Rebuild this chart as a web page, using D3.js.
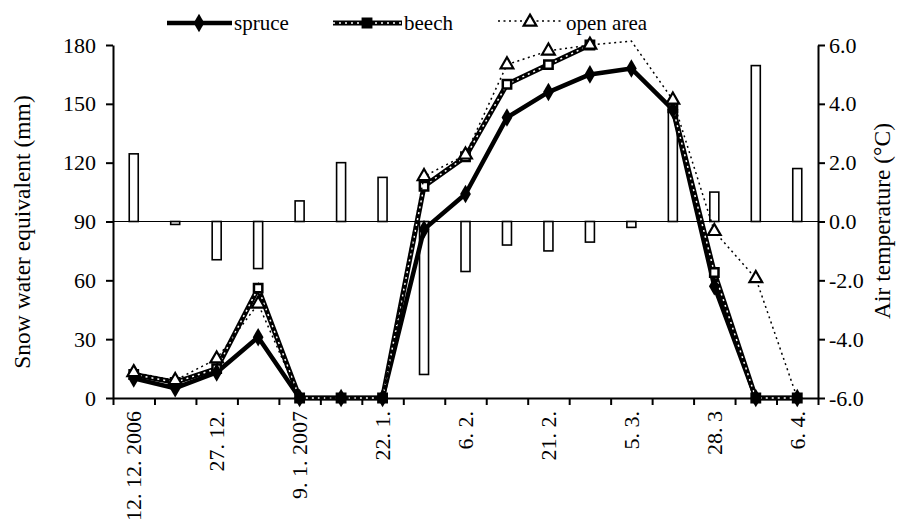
<!DOCTYPE html>
<html>
<head>
<meta charset="utf-8">
<script src="https://cdn.jsdelivr.net/npm/d3@7"></script>
<style>
  body { margin: 0; background: #fff; }
  svg text { font-family: "Liberation Serif", "DejaVu Serif", serif; fill: #000; }
</style>
</head>
<body>
<div id="chart"></div>
<script>
(function() {
    // data
    var dates = ["12. 12. 2006", "", "27. 12.", "", "9. 1. 2007", "", "22. 1.", "", "6. 2.", "",
                 "21. 2.", "", "5. 3.", "", "28. 3", "", "6. 4."];
    var spruce = [10, 5, 13, 31, 0, 0, 0, 86, 104, 143, 156, 165, 168, 147, 57, 0, 0];
    var beech = [12, 8, 15, 56, 0, 0, 0, 108, 123, 160, 170, 180, null, 148, 64, 0, 0];
    var openArea = [13, 9, 20, 48, 0, 0, 0, 113, 124, 170, 177, 180, 182, 152, 85, 61, 0];
    var openMarker = [1, 1, 1, 1, 1, 1, 1, 1, 1, 1, 1, 1, 0, 1, 1, 1, 1];
    var airTemp = [2.3, -0.1, -1.3, -1.6, 0.7, 2.0, 1.5, -5.2, -1.7, -0.8, -1.0, -0.7, -0.2, 3.8, 1.0, 5.3, 1.8];
    var sweTicks = [0, 30, 60, 90, 120, 150, 180];
    var tempTicks = [-6, -4, -2, 0, 2, 4, 6];

    var W = 903, H = 523;
    var margin = {top: 45, right: 85, bottom: 125, left: 113};
    var width = W - margin.left - margin.right,
        height = H - margin.top - margin.bottom;

    var svg = d3.select("#chart").append("svg")
        .attr("width", W)
        .attr("height", H)
        .append("g")
        .attr("transform", "translate(" + margin.left + "," + margin.top + ")");

    var idx = d3.range(dates.length);
    var x = d3.scaleBand().domain(idx).range([0, width]).padding(0);
    var xEdge = d3.scaleLinear().domain([0, dates.length]).range([0, width]);
    var y = d3.scaleLinear().domain([0, 180]).range([height, 0]);
    var yT = d3.scaleLinear().domain([-6, 6]).range([height, 0]);
    var cx = function(i) { return x(i) + x.bandwidth() / 2; };

    // temperature bars
    var barW = 9;
    svg.selectAll(".bar")
        .data(airTemp)
        .enter().append("rect")
        .attr("class", "bar")
        .attr("x", (d, i) => cx(i) - barW / 2)
        .attr("y", d => yT(Math.max(0, d)))
        .attr("width", barW)
        .attr("height", d => Math.abs(yT(d) - yT(0)))
        .attr("fill", "#fff")
        .attr("stroke", "#000")
        .attr("stroke-width", 1.6);

    // zero line for temperature
    svg.append("line")
        .attr("x1", 0).attr("x2", width)
        .attr("y1", yT(0)).attr("y2", yT(0))
        .attr("stroke", "#000")
        .attr("stroke-width", 1.2);

    // axes
    var leftAxis = svg.append("g")
        .call(d3.axisLeft(y).tickValues(sweTicks).tickSize(7).tickSizeOuter(0).tickPadding(10));
    var rightAxis = svg.append("g")
        .attr("transform", "translate(" + width + ",0)")
        .call(d3.axisRight(yT).tickValues(tempTicks).tickSize(7).tickSizeOuter(0).tickPadding(4)
            .tickFormat(d => d3.format(".1f")(d).replace("\u2212", "-")));
    var xTicks = svg.append("g")
        .attr("transform", "translate(0," + height + ")")
        .call(d3.axisBottom(xEdge).ticks(dates.length).tickFormat("").tickSize(7).tickSizeOuter(0));
    var xLabels = svg.append("g")
        .attr("transform", "translate(0," + height + ")")
        .call(d3.axisBottom(x).tickSize(0).tickFormat(i => dates[i]));
    xLabels.select(".domain").remove();
    xLabels.selectAll("text")
        .attr("transform", "rotate(-90)")
        .attr("x", -13)
        .attr("y", 0)
        .attr("dy", "0.35em")
        .style("text-anchor", "end");

    [leftAxis, rightAxis, xTicks, xLabels].forEach(function(g) {
        g.attr("font-family", null).attr("font-size", null);
        g.selectAll(".domain, .tick line").attr("stroke", "#000").attr("stroke-width", 2);
    });
    svg.selectAll(".tick text").style("font-size", "22px");

    // axis titles
    svg.append("text")
        .attr("transform", "translate(" + (22 - margin.left) + "," + (232 - margin.top) + ") rotate(-90)")
        .attr("text-anchor", "middle")
        .attr("dy", "0.35em")
        .style("font-size", "23.5px")
        .text("Snow water equivalent (mm)");
    svg.append("text")
        .attr("transform", "translate(" + (882 - margin.left) + "," + (221 - margin.top) + ") rotate(-90)")
        .attr("text-anchor", "middle")
        .attr("dy", "0.35em")
        .style("font-size", "23.5px")
        .text("Air temperature (°C)");

    var line = d3.line()
        .defined(d => d != null)
        .x((d, i) => cx(i))
        .y(d => y(d));

    var diamond = d3.symbol().type(d3.symbolDiamond).size(100);
    var square = d3.symbol().type(d3.symbolSquare).size(70);
    var triangle = d3.symbol().type(d3.symbolTriangle).size(70);

    // spruce line
    svg.append("path").datum(spruce)
        .attr("d", line).attr("fill", "none")
        .attr("stroke", "#000").attr("stroke-width", 4.5).attr("stroke-linejoin", "round");

    // beech
    svg.append("path").datum(beech)
        .attr("d", line).attr("fill", "none")
        .attr("stroke", "#000").attr("stroke-width", 5);
    svg.append("path").datum(beech)
        .attr("d", line).attr("fill", "none")
        .attr("stroke", "#fff").attr("stroke-width", 1.5).attr("stroke-dasharray", "2,4");
    svg.selectAll(".beech")
        .data(beech.map((d, i) => [d, i]).filter(d => d[0] != null))
        .enter().append("path")
        .attr("class", "beech")
        .attr("transform", d => "translate(" + cx(d[1]) + "," + y(d[0]) + ")")
        .attr("d", square)
        .attr("fill", "#fff")
        .attr("stroke", "#000")
        .attr("stroke-width", 2.5);

    // spruce markers on top of the beech squares
    svg.selectAll(".spruce")
        .data(spruce)
        .enter().append("path")
        .attr("class", "spruce")
        .attr("transform", (d, i) => "translate(" + cx(i) + "," + y(d) + ")")
        .attr("d", diamond)
        .attr("fill", "#000");

    // open area
    svg.append("path").datum(openArea)
        .attr("d", line).attr("fill", "none")
        .attr("stroke", "#000").attr("stroke-width", 1.5).attr("stroke-dasharray", "2,3.5");
    svg.selectAll(".open")
        .data(openArea.map((d, i) => [d, i]).filter(d => openMarker[d[1]] && d[0] > 0))
        .enter().append("path")
        .attr("class", "open")
        .attr("transform", d => "translate(" + cx(d[1]) + "," + y(d[0]) + ")")
        .attr("d", triangle)
        .attr("fill", "#fff")
        .attr("stroke", "#000")
        .attr("stroke-width", 2.2);

    // legend
    var lg = svg.append("g").attr("transform", "translate(" + (-margin.left) + "," + (-margin.top) + ")");
    var ly = 23;
    lg.append("line").attr("x1", 167).attr("x2", 232).attr("y1", ly).attr("y2", ly)
        .attr("stroke", "#000").attr("stroke-width", 4.5);
    lg.append("path").attr("transform", "translate(199," + ly + ")").attr("d", diamond).attr("fill", "#000");
    lg.append("text").attr("x", 234).attr("y", ly + 7).style("font-size", "21px").text("spruce");

    lg.append("line").attr("x1", 333).attr("x2", 402).attr("y1", ly).attr("y2", ly)
        .attr("stroke", "#000").attr("stroke-width", 5);
    lg.append("line").attr("x1", 333).attr("x2", 402).attr("y1", ly).attr("y2", ly)
        .attr("stroke", "#fff").attr("stroke-width", 1.5).attr("stroke-dasharray", "2,4");
    lg.append("path").attr("transform", "translate(367," + ly + ")").attr("d", square)
        .attr("fill", "#000").attr("stroke", "#000").attr("stroke-width", 2.5);
    lg.append("text").attr("x", 404).attr("y", ly + 7).style("font-size", "21px").text("beech");

    lg.append("line").attr("x1", 498).attr("x2", 563).attr("y1", ly - 2).attr("y2", ly - 2)
        .attr("stroke", "#000").attr("stroke-width", 1.5).attr("stroke-dasharray", "2,3.5");
    lg.append("path").attr("transform", "translate(530," + (ly - 1) + ")").attr("d", triangle)
        .attr("fill", "#fff").attr("stroke", "#000").attr("stroke-width", 2.2);
    lg.append("text").attr("x", 566).attr("y", ly + 7).style("font-size", "21px").text("open area");
})();
</script>
</body>
</html>
